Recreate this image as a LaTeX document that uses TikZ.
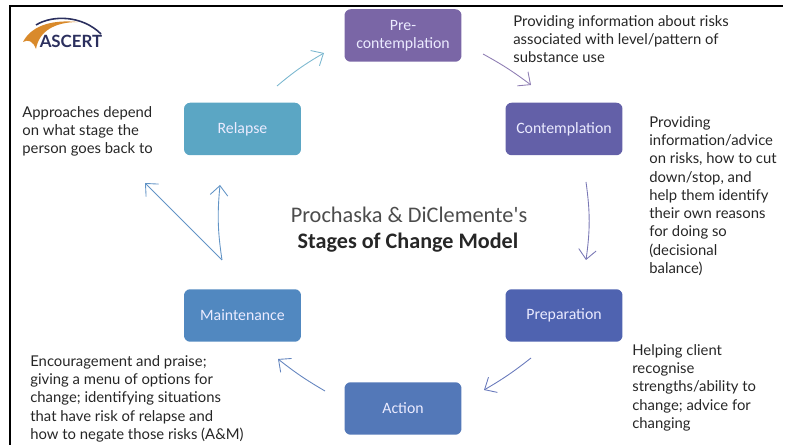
\documentclass[tikz,border=0pt]{standalone}
\usepackage{fontspec}
\setmainfont{Lato}
\newfontfamily\boxfont{Carlito}
\usetikzlibrary{arrows.meta}
\tikzset{
  stagebox/.style={rounded corners=3.5pt,minimum width=2.34cm,minimum height=1.05cm,text=white!92!blue,align=center,inner sep=0pt,font=\boxfont\fontsize{9}{10.4}\selectfont},
  notetext/.style={anchor=north west,align=left,inner sep=0pt,text=black!85,font=\fontsize{8.45}{10.4}\selectfont},
  cyclearrow/.style={-{Straight Barb[length=5.5pt,width=10pt]},line width=0.5pt}
}
\definecolor{precol}{HTML}{7A66A6}
\definecolor{concol}{HTML}{6360A8}
\definecolor{prepcol}{HTML}{4F63B0}
\definecolor{actcol}{HTML}{5378B8}
\definecolor{maincol}{HTML}{5188C0}
\definecolor{relcol}{HTML}{5BA6C4}
\definecolor{logoblue}{HTML}{2B2F5E}
\definecolor{logoorange}{HTML}{D98A2B}
\begin{document}
\begin{tikzpicture}[x=0.02cm,y=-0.02cm]
\useasboundingbox (0,0) rectangle (785,445);
% frame
\draw [line width=1.5pt] (10,445) -- (10,6) -- (783,6);
% logo
\fill [logoorange] (23,42) .. controls (30,28) and (48,19) .. (78,22) .. controls (55,22) and (39,31) .. (36,49) .. controls (33,41) and (28,39) .. (23,42);
\draw [logoblue,line width=0.9pt] (36,25) .. controls (52,15) and (82,15) .. (101,34);
\node (logo) [text=logoblue,inner sep=0pt,font=\bfseries\fontsize{9.6}{10}\selectfont] at (71,41) {ASCERT};
% stages
\node (pre) [stagebox,fill=precol] at (403,35.5) {Pre-\\contemplation};
\node (con) [stagebox,fill=concol] at (564,129) {Contemplation};
\node (prep) [stagebox,fill=prepcol] at (564,315.5) {Preparation};
\node (act) [stagebox,fill=actcol] at (403,408.5) {Action};
\node (main) [stagebox,fill=maincol] at (242.5,315.5) {Maintenance};
\node (rel) [stagebox,fill=relcol] at (242.5,129) {Relapse};
% title
\node (title) [font=\boxfont\fontsize{12.7}{14}\selectfont,text=black!70] at (409,215) {Prochaska \& DiClemente's};
\node (subtitle) [font=\boxfont\bfseries\fontsize{12.6}{14}\selectfont,text=black!85] at (408,243) {Stages of Change Model};
% notes
\node (prenote) [notetext] at (513,15) {Providing information about risks\\associated with level/pattern of\\substance use};
\node (connote) [notetext] at (649,116) {Providing\\information/advice\\on risks, how to cut\\down/stop, and\\help them identify\\their own reasons\\for doing so\\(decisional\\balance)};
\node (prepnote) [notetext] at (632,344) {Helping client\\recognise\\strengths/ability to\\change; advice for\\changing};
\node (mainnote) [notetext] at (30,355) {Encouragement and praise;\\giving a menu of options for\\change; identifying situations\\that have risk of relapse and\\how to negate those risks (A\&M)};
\node (relnote) [notetext] at (22,106) {Approaches depend\\on what stage the\\person goes back to};
% arrows
\coordinate (a1) at (277,86); \coordinate (a2) at (324,53);
\coordinate (b1) at (483,54); \coordinate (b2) at (531,85);
\coordinate (c1) at (586,182); \coordinate (c2) at (586,260);
\coordinate (d1) at (531,358); \coordinate (d2) at (484,390);
\coordinate (e1) at (325,391); \coordinate (e2) at (278,359);
\coordinate (f1) at (222,260); \coordinate (f2) at (145,183); \coordinate (f3) at (220,185);
\draw [cyclearrow,color=relcol!80!white] (a1) to [bend left=5] (a2);
\draw [cyclearrow,color=precol!85!white] (b1) to [bend left=4] (b2);
\draw [cyclearrow,color=concol!85!white] (c1) to [bend left=8] (c2);
\draw [cyclearrow,color=prepcol!85!white] (d1) to [bend left=4] (d2);
\draw [cyclearrow,color=actcol!90!white] (e1) to [bend left=4] (e2);
\draw [cyclearrow,color=maincol!90!white] (f1) -- (f2);
\draw [cyclearrow,color=maincol!90!white] (f1) to [bend left=7] (f3);
\end{tikzpicture}
\end{document}
